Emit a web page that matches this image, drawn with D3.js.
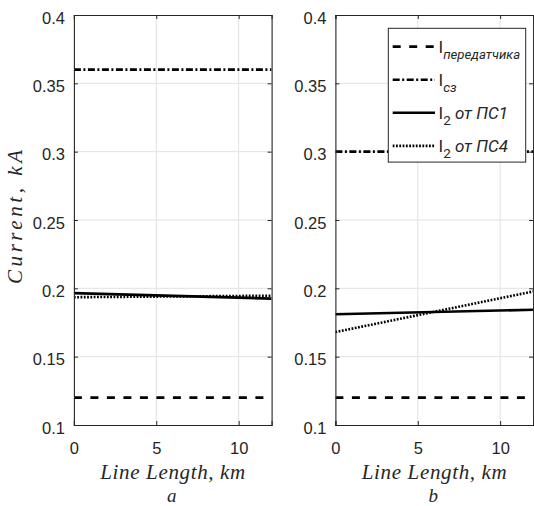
<!DOCTYPE html>
<html><head><meta charset="utf-8">
<script src="https://cdn.jsdelivr.net/npm/d3@7"></script>
<style>
html,body{margin:0;padding:0;background:#fff;}
svg{display:block;}
</style></head>
<body>
<svg id="chart" width="534" height="506"></svg>
<script>
// ---- data ----
const lengthKm = [0, 12];
const xTicks = [0, 5, 10];
const yTicks = [0.1, 0.15, 0.2, 0.25, 0.3, 0.35, 0.4];
const yTickLabels = ["0.1", "0.15", "0.2", "0.25", "0.3", "0.35", "0.4"];
const panelNames = ["a", "b"];
const seriesKeys = ["transmitter", "sz", "i2ps1", "i2ps4"];
// panel a
const transmitterA = [0.12, 0.12];
const szA = [0.36, 0.36];
const i2ps1A = [0.1965, 0.1925];
const i2ps4A = [0.1935, 0.1946];
// panel b
const transmitterB = [0.12, 0.12];
const szB = [0.30, 0.30];
const i2ps1B = [0.1810, 0.1843];
const i2ps4B = [0.1680, 0.1977];

const panels = [
  {name: panelNames[0], left: 73.9, series: [transmitterA, szA, i2ps1A, i2ps4A], legend: false},
  {name: panelNames[1], left: 335.4, series: [transmitterB, szB, i2ps1B, i2ps4B], legend: true}
];
const styles = {
  transmitter: {dash: "8,8.5", w: 2.6},
  sz: {dash: "7,2.5,2,2.5", w: 2.6},
  i2ps1: {dash: null, w: 2.6},
  i2ps4: {dash: "1.8,1.5", w: 2.6}
};

const svg = d3.select("#chart");
const pw = 197.7, yTop = 15, yBottom = 425;
const axisColor = "#262626";
const tickFont = "'Liberation Sans', Arial, sans-serif";
const serif = "'Liberation Serif', 'Times New Roman', serif";

panels.forEach((p, pi) => {
  const x = d3.scaleLinear().domain([0, 12]).range([p.left, p.left + pw]);
  const y = d3.scaleLinear().domain([0.1, 0.4]).range([yBottom, yTop]);
  const g = svg.append("g");

  // grid
  g.selectAll(".gx").data(xTicks.filter(t => t > 0)).enter().append("line")
    .attr("x1", d => x(d)).attr("x2", d => x(d)).attr("y1", yTop).attr("y2", yBottom)
    .attr("stroke", "#e2e2e2").attr("stroke-width", 1);
  g.selectAll(".gy").data(yTicks.filter(t => t > 0.1 && t < 0.4)).enter().append("line")
    .attr("x1", p.left).attr("x2", p.left + pw).attr("y1", d => y(d)).attr("y2", d => y(d))
    .attr("stroke", "#e2e2e2").attr("stroke-width", 1);

  // clip
  const cid = "clip" + pi;
  svg.append("clipPath").attr("id", cid).append("rect")
    .attr("x", p.left).attr("y", yTop).attr("width", pw).attr("height", yBottom - yTop);

  const line = d3.line().x((d, i) => x(lengthKm[i])).y(d => y(d));
  const lg = g.append("g").attr("clip-path", `url(#${cid})`);
  p.series.forEach((vals, si) => {
    const st = styles[seriesKeys[si]];
    lg.append("path").datum(vals).attr("d", line)
      .attr("fill", "none").attr("stroke", "#000").attr("stroke-width", st.w)
      .attr("stroke-dasharray", st.dash);
  });

  // axes (box with inward ticks)
  const ax = g.append("g").attr("transform", `translate(0,${yBottom})`)
    .call(d3.axisBottom(x).tickValues(xTicks).tickSize(-4).tickPadding(17).tickFormat(d3.format("d")));
  const axTop = g.append("g").attr("transform", `translate(0,${yTop})`)
    .call(d3.axisTop(x).tickValues(xTicks).tickSize(-4).tickFormat(""));
  const ay = g.append("g").attr("transform", `translate(${p.left},0)`)
    .call(d3.axisLeft(y).tickValues(yTicks).tickSize(-4).tickPadding(9).tickFormat((d, i) => yTickLabels[i]));
  const ayR = g.append("g").attr("transform", `translate(${p.left + pw},0)`)
    .call(d3.axisRight(y).tickValues(yTicks).tickSize(-4).tickFormat(""));
  [ax, axTop, ay, ayR].forEach(a => {
    a.select(".domain").attr("stroke", axisColor).attr("stroke-width", 1.1);
    a.selectAll(".tick line").attr("stroke", axisColor).attr("stroke-width", 1);
    a.selectAll("text").attr("fill", axisColor).style("font-family", tickFont).style("font-size", "16.5px");
  });
  ay.selectAll(".tick text").attr("dy", "0.5em");

  // x label
  g.append("text").attr("x", p.left + pw / 2).attr("y", 479)
    .attr("text-anchor", "middle").attr("fill", axisColor)
    .style("font-family", serif).style("font-style", "italic").style("font-size", "21px")
    .attr("textLength", 145).attr("lengthAdjust", "spacing")
    .text("Line Length, km");
  g.append("text").attr("x", p.left + pw / 2 - 1).attr("y", 502)
    .attr("text-anchor", "middle").attr("fill", axisColor)
    .style("font-family", serif).style("font-style", "italic").style("font-size", "19px")
    .text(p.name);

  if (p.legend) {
    const lx = 388.3, ly = 28.3, lw = 137.4, lh = 133.8;
    const leg = svg.append("g");
    leg.append("rect").attr("x", lx).attr("y", ly).attr("width", lw).attr("height", lh)
      .attr("fill", "#fff").attr("stroke", axisColor).attr("stroke-width", 1);
    const entries = [
      {key: "transmitter", sub: "передатчика", rest: ""},
      {key: "sz", sub: "сз", rest: ""},
      {key: "i2ps1", sub: "2", rest: " от ПС1"},
      {key: "i2ps4", sub: "2", rest: " от ПС4"}
    ];
    const legFont = "Roboto, 'Noto Sans', 'Liberation Sans', sans-serif";
    entries.forEach((e, i) => {
      const yy = 46.6 + i * 33.1;
      const st = styles[e.key];
      leg.append("line").attr("x1", 392.7).attr("x2", 435).attr("y1", yy).attr("y2", yy)
        .attr("stroke", "#000").attr("stroke-width", st.w).attr("stroke-dasharray", st.dash);
      const t = leg.append("text").attr("x", 438.5).attr("y", yy + 6.5)
        .attr("fill", axisColor).style("font-family", legFont).style("font-size", "17px");
      t.append("tspan").text("I");
      const isNum = e.sub === "2";
      const sub = t.append("tspan").attr("dy", 6).style("font-size", "13.5px")
        .style("font-style", isNum ? "normal" : "italic").text(e.sub);
      if (!isNum && e.sub.length > 4) sub.attr("textLength", 77).attr("lengthAdjust", "spacingAndGlyphs");
      if (e.rest) {
        t.append("tspan").attr("dy", -6).style("font-style", "italic").style("font-size", "17px").text(e.rest);
      }
    });
  }
});

// y label
svg.append("text").attr("transform", "translate(22,217) rotate(-90)")
  .attr("text-anchor", "middle").attr("fill", axisColor)
  .style("font-family", serif).style("font-style", "italic").style("font-size", "21px")
  .attr("textLength", 134).attr("lengthAdjust", "spacing")
  .text("Current, kA");
</script>
</body></html>
